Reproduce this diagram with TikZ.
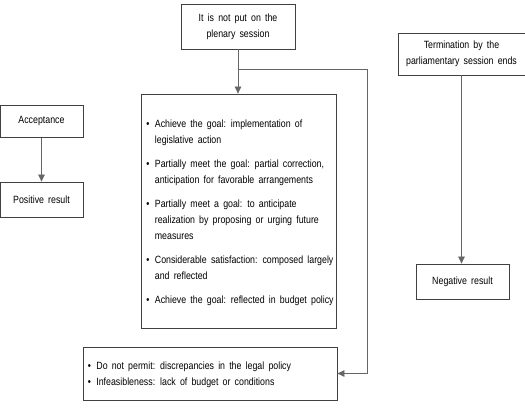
\documentclass[tikz,border=0pt]{standalone}
\usepackage{fontspec}
\setmainfont{Liberation Sans}[FakeStretch=0.84,WordSpace=1.7]
\usepackage{tikz}
\usetikzlibrary{arrows.meta,calc,positioning}

\tikzset{box/.style={draw=black!75,line width=0.8pt,inner sep=0pt,align=center,font=\fontsize{10.5}{16}\selectfont},
  conn/.style={draw=black!60,line width=0.7pt},
  tip/.style={-{Triangle[width=6.5pt,length=7pt]}}}
\newcommand{\bul}{\textbullet}

\begin{document}
\begin{tikzpicture}[x=1pt,y=-1pt]
\useasboundingbox (0,0) rectangle (525,412);
\node[box,minimum width=114pt,minimum height=45pt] (plenary) at (238,26.5) {It is not put on the\\plenary session};
\node[box,minimum width=195pt,minimum height=234pt] (goal) at (239,211) {};
\node[anchor=north west,inner sep=0pt,font=\fontsize{10.5}{16}\selectfont] (goaltxt) at ([xshift=5pt,yshift=-22.5pt]goal.north west)
  {\begin{tabular}{@{}l@{\hspace{5.5pt}}l@{}}
  \bul & Achieve the goal: implementation of\\
   & legislative action\\[8pt]
  \bul & Partially meet the goal: partial correction,\\
   & anticipation for favorable arrangements\\[8pt]
  \bul & Partially meet a goal: to anticipate\\
   & realization by proposing or urging future\\
   & measures\\[8pt]
  \bul & Considerable satisfaction: composed largely\\
   & and reflected\\[8pt]
  \bul & Achieve the goal: reflected in budget policy
  \end{tabular}};
\node[box,minimum width=254pt,minimum height=53pt] (refuse) at (210,373.5) {};
\node[anchor=west,inner sep=0pt,font=\fontsize{10.5}{15.5}\selectfont] (refusetxt) at ([xshift=5pt,yshift=-1pt]refuse.west)
  {\begin{tabular}{@{}l@{\hspace{5.5pt}}l@{}}
  \bul & Do not permit: discrepancies in the legal policy\\
  \bul & Infeasibleness: lack of budget or conditions
  \end{tabular}};
\node[box,minimum width=83pt,minimum height=32pt] (accept) at (41.5,121.3) {Acceptance};
\node[box,minimum width=83pt,minimum height=35pt] (positive) at (41.5,199.5) {Positive result};
\node[box,minimum width=127pt,minimum height=42pt] (termin) at (461.5,54) {Termination by the\\parliamentary session ends};
\node[box,minimum width=93pt,minimum height=35pt] (negative) at (462.5,281.5) {Negative result};

% connectors
\draw[conn,tip] (plenary) -- (plenary |- goal.north);
\coordinate (split) at (plenary.south |- 0,69); \coordinate (bend) at (367,69);
\draw[conn,tip] (split) -- (bend) |- (refuse.east);
\draw[conn,tip] (accept) -- (accept |- positive.north);
\draw[conn,tip] (termin) -- (termin |- negative.north);
\end{tikzpicture}
\end{document}
